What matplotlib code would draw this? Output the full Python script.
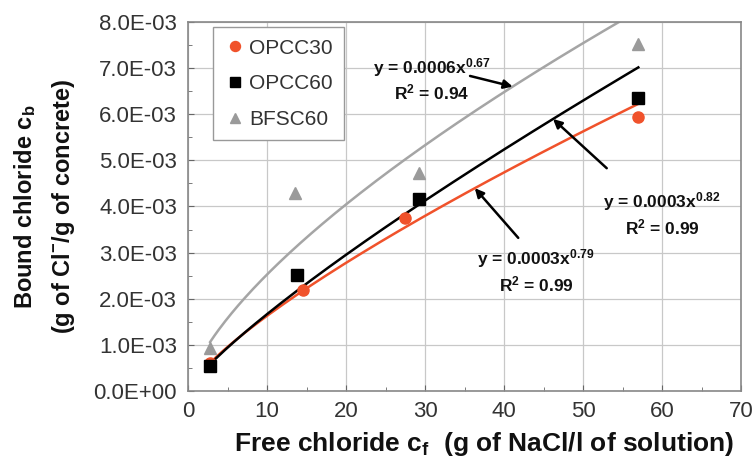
import numpy as np
import matplotlib.pyplot as plt
from matplotlib.ticker import MultipleLocator, FuncFormatter

plt.rcParams['font.family'] = ['Liberation Sans', 'DejaVu Sans']
plt.rcParams['mathtext.fontset'] = 'custom'
plt.rcParams['mathtext.rm'] = 'Liberation Sans'
plt.rcParams['mathtext.bf'] = 'Liberation Sans:bold'
plt.rcParams['mathtext.it'] = 'Liberation Sans:italic'

# data
opcc30_x = [2.8, 14.5, 27.5, 57.0]
opcc30_y = [0.60e-3, 2.19e-3, 3.75e-3, 5.94e-3]
opcc60_x = [2.8, 13.8, 29.2, 57.0]
opcc60_y = [0.54e-3, 2.51e-3, 4.16e-3, 6.35e-3]
bfsc60_x = [2.8, 13.5, 29.2, 57.0]
bfsc60_y = [0.93e-3, 4.29e-3, 4.73e-3, 7.52e-3]

orange = '#F0522B'
grey_pt = '#9A9A9A'
grey_ln = '#A5A5A5'


def power_fit(x, y):
    # power trendline as a spreadsheet does it: straight fit in log-log
    b, ln_a = np.polyfit(np.log(x), np.log(y), 1)
    return np.exp(ln_a), b


fig = plt.figure(figsize=(7.56, 4.62), dpi=100)
ax = fig.add_axes([0.2487, 0.1537, 0.7315, 0.7987])

fits = {}
for name, xs, ys, col in [('o30', opcc30_x, opcc30_y, orange),
                          ('o60', opcc60_x, opcc60_y, 'black'),
                          ('b60', bfsc60_x, bfsc60_y, grey_ln)]:
    a, b = power_fit(xs, ys)
    fits[name] = (a, b)
    xx = np.linspace(min(xs), max(xs), 200)
    ax.plot(xx, a * xx ** b, color=col, lw=1.8, zorder=2)

ax.plot(opcc30_x, opcc30_y, 'o', color=orange, ms=8, label='OPCC30', zorder=3)
ax.plot(opcc60_x, opcc60_y, 's', color='black', ms=8, label='OPCC60', zorder=4)
ax.plot(bfsc60_x, bfsc60_y, '^', color=grey_pt, ms=8, label='BFSC60', zorder=3)


def curve(name, x):
    a, b = fits[name]
    return a * x ** b


arrow = dict(arrowstyle='-|>', color='black', lw=1.8, mutation_scale=13,
             shrinkA=0, shrinkB=0)
ax.annotate('', xy=(41.1, curve('b60', 41.1)), xytext=(35.7, 6.83e-3), arrowprops=arrow)
ax.annotate('', xy=(46.2, curve('o60', 46.2)), xytext=(53.0, 4.83e-3), arrowprops=arrow)
ax.annotate('', xy=(36.3, curve('o30', 36.3)), xytext=(41.8, 3.32e-3), arrowprops=arrow)

tkw = dict(ha='center', va='center', fontsize=12.5, fontweight='bold',
           multialignment='center', linespacing=1.25, zorder=5, color='#111111')
ax.text(30.9, 6.76e-3, r'y = 0.0006x$^{\mathbf{0.67}}$' + '\n' + r'R$^{\mathbf{2}}$ = 0.94', **tkw)
ax.text(60.0, 3.84e-3, r'y = 0.0003x$^{\mathbf{0.82}}$' + '\n' + r'R$^{\mathbf{2}}$ = 0.99', **tkw)
ax.text(44.05, 2.60e-3, r'y = 0.0003x$^{\mathbf{0.79}}$' + '\n' + r'R$^{\mathbf{2}}$ = 0.99', **tkw)

ax.set_xlim(0, 70)
ax.set_ylim(0, 8e-3)
ax.xaxis.set_major_locator(MultipleLocator(10))
ax.xaxis.set_minor_locator(MultipleLocator(5))
ax.yaxis.set_major_locator(MultipleLocator(1e-3))
ax.yaxis.set_minor_locator(MultipleLocator(0.5e-3))
ax.yaxis.set_major_formatter(FuncFormatter(lambda v, p: '%.1E' % v))
ax.tick_params(which='both', direction='in', labelsize=16, colors='#666666',
               labelcolor='#333333')
ax.tick_params(axis='x', which='major', pad=7)
ax.tick_params(axis='y', which='major', pad=8)
ax.tick_params(which='major', length=4)
ax.tick_params(which='minor', length=3)
ax.grid(True, which='major', color='#C8C8C8', lw=0.9)
for s in ax.spines.values():
    s.set_color('#888888')
    s.set_linewidth(1.2)

ax.set_xlabel(r'Free chloride c$_{\mathbf{f}}$  (g of NaCl/l of solution)',
              fontsize=19, fontweight='bold', labelpad=6, color='#111111')
ax.xaxis.label.set_x(0.535)
ax.set_ylabel('Bound chloride c$_{\\mathbf{b}}$\n(g of Cl$^{\\mathbf{-}}$/g of concrete)',
              fontsize=17, fontweight='bold', labelpad=12, linespacing=1.6, color='#111111')

leg = ax.legend(loc='upper left', bbox_to_anchor=(0.045, 0.986), borderaxespad=0,
                fontsize=15, labelspacing=0.8, handlelength=1.0, handletextpad=0.2,
                borderpad=0.55, fancybox=False, framealpha=1, edgecolor='#999999',
                markerscale=0.9)
leg.get_frame().set_linewidth(1.0)
for t in leg.get_texts():
    t.set_color('#333333')

fig.savefig('out.png', dpi=100)
